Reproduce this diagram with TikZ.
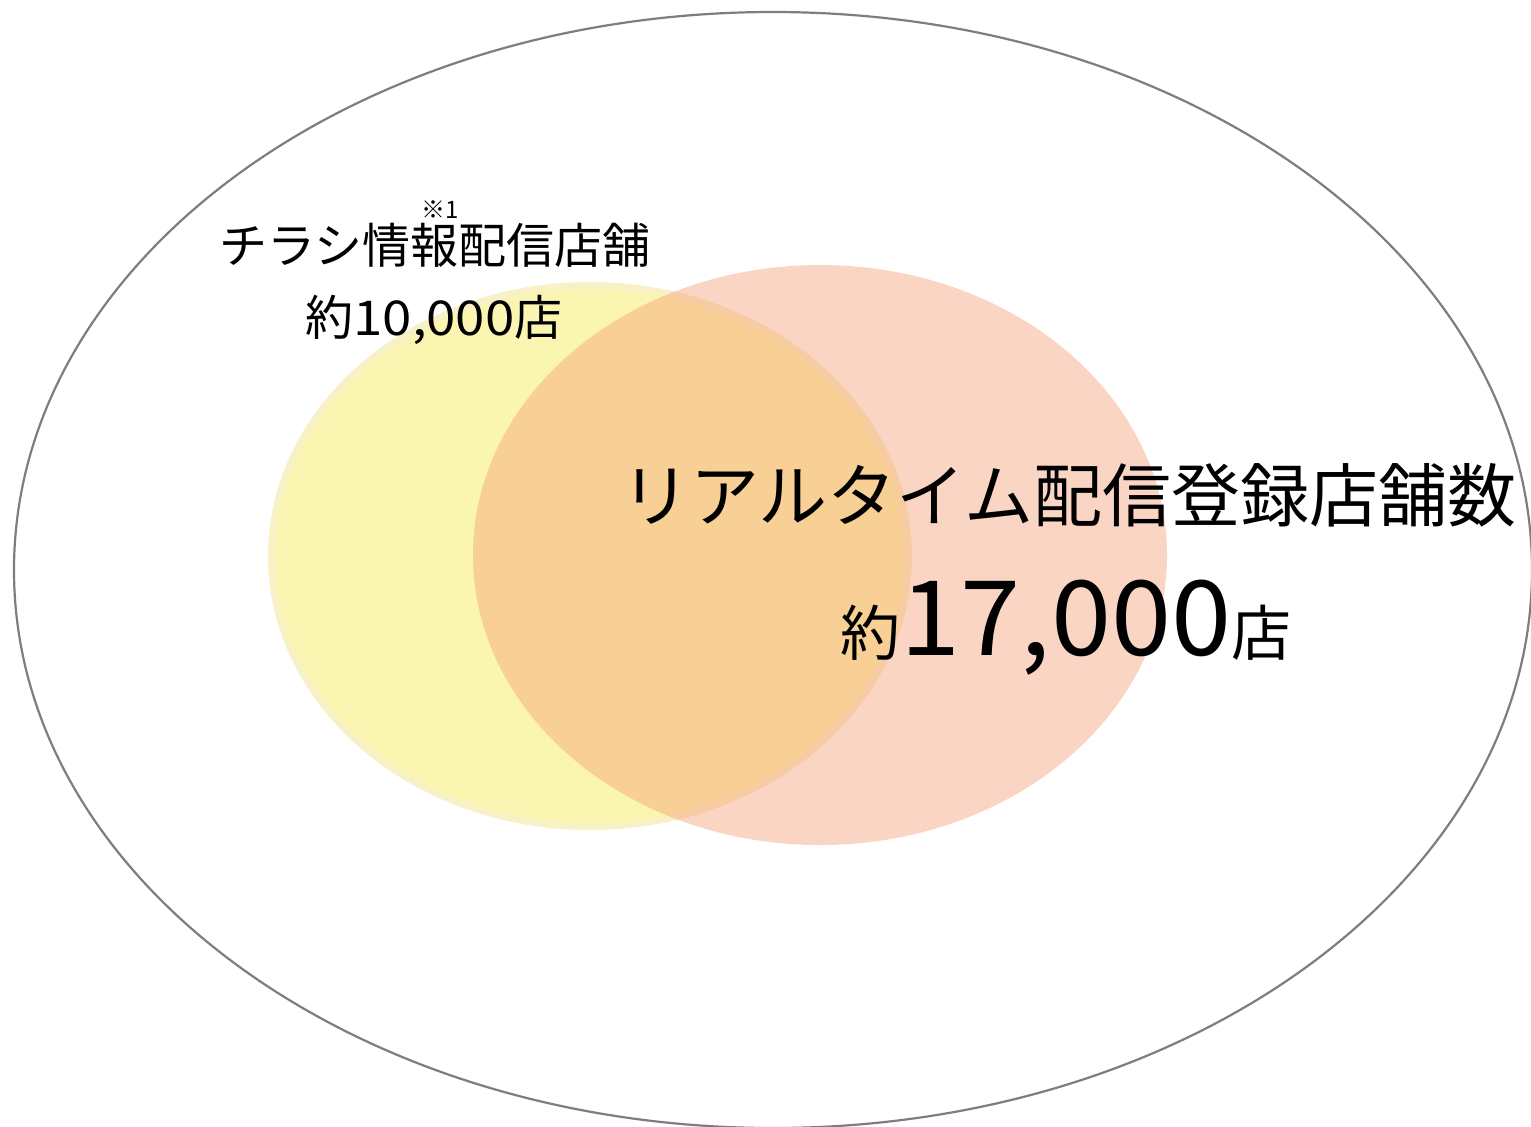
\documentclass[tikz,border=0pt]{standalone}
\usepackage{fontspec}
\setmainfont{Noto Sans CJK JP}
\definecolor{outerline}{RGB}{125,125,130}
\definecolor{yfill}{RGB}{250,245,176}
\definecolor{yedge}{RGB}{249,241,198}
\definecolor{sfill}{RGB}{245,150,108}
\tikzset{
  lbl/.style={inner sep=0pt, text=black},
}
\begin{document}
\begin{tikzpicture}[x=0.5pt,y=-0.5pt]
\useasboundingbox (0,0) rectangle (1531,1126);
\fill[white] (0,0) rectangle (1531,1126);
% outer ellipse
\draw[outerline, line width=1.1pt] (773,570) ellipse [x radius=759, y radius=558];
% yellow set
\draw[fill=yfill, draw=yedge, line width=3.5pt] (590,556) ellipse [x radius=318.5, y radius=270.5];
% salmon set
\fill[sfill, fill opacity=0.4] (820,555) ellipse [x radius=347, y radius=290];
% labels
\node[lbl, font=\fontsize{24}{28}\selectfont] (t1) at (435,245) {チラシ情報配信店舗};
\node[lbl, font=\fontsize{12}{14}\selectfont] (note) at (440,210) {※1};
\node[lbl, font=\fontsize{24}{28}\selectfont] (n1) at (434,320) {約{\addfontfeatures{FakeStretch=1.1}10,000}店};
\node[lbl, font=\fontsize{34.5}{40}\selectfont] (t2) at (1069,495) {リアルタイム配信登録店舗数};
\node[lbl, anchor=base] (n2) at (1066,655) {{\fontsize{30}{36}\selectfont 約}{\fontsize{52}{60}\selectfont\addfontfeatures{FakeStretch=1.04}17,000}{\fontsize{30}{36}\selectfont 店}};
\end{tikzpicture}
\end{document}
